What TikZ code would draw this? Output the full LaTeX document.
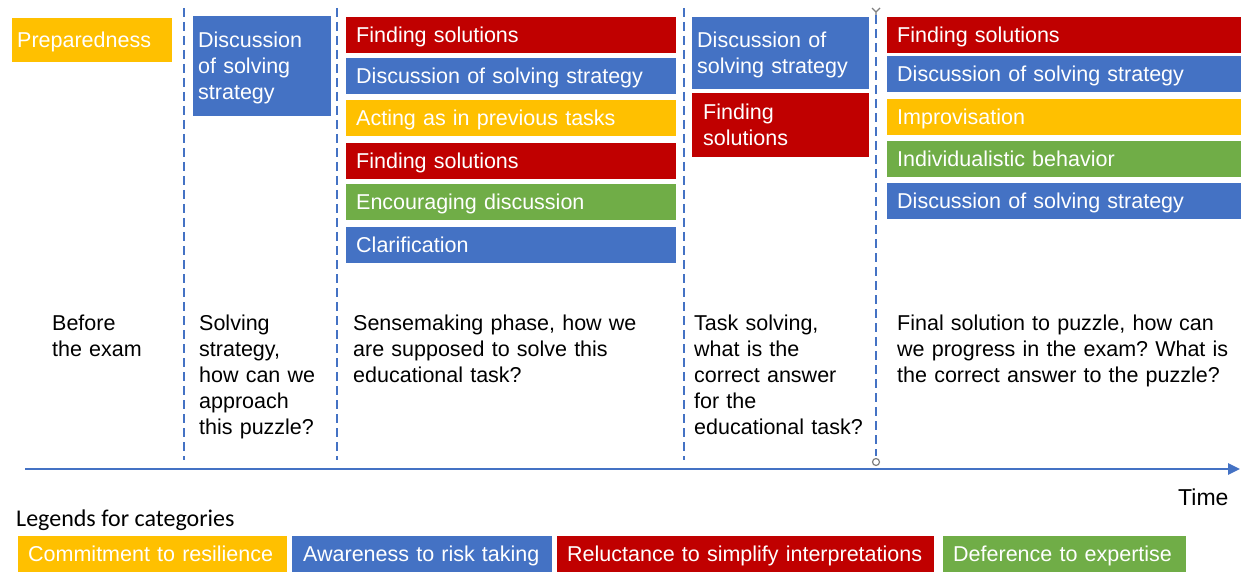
\documentclass[tikz,border=0pt]{standalone}
\usepackage{fontspec}
\setmainfont{Liberation Sans}
\newfontfamily\legendfont{Carlito}
\usetikzlibrary{arrows.meta}
\frenchspacing

\definecolor{catyellow}{HTML}{FFC000}
\definecolor{catblue}{HTML}{4472C4}
\definecolor{catred}{HTML}{C00000}
\definecolor{catgreen}{HTML}{70AD47}

\newcommand\tagfont{\fontsize{21.5}{26}\selectfont}

\tikzset{
	tag/.style={rectangle, fill=#1, text=white, anchor=north west, inner xsep=10pt, inner ysep=0pt,
		align=left, font=\tagfont, minimum height=36pt, text height=15.4pt, text depth=0pt},
	twolines/.style={text depth=26pt},
	threelines/.style={text depth=52pt},
	midcol/.style={text width=310pt},
	lastcol/.style={text width=334pt},
	note/.style={anchor=base west, inner sep=0pt, align=left, font=\tagfont},
	phase/.style={catblue, line width=2.2pt, dash pattern=on 9pt off 5pt},
	timeline/.style={catblue, line width=2.5pt, -{Triangle[length=12pt, width=11pt]}},
	handle/.style={gray, line width=1.2pt},
}

\begin{document}
\begin{tikzpicture}[x=1pt, y=-1pt]
	\useasboundingbox (0,0) rectangle (1242,572);

	\coordinate (s1) at (184, 8);
	\coordinate (e1) at (184, 460);
	\coordinate (s2) at (337, 8);
	\coordinate (e2) at (337, 460);
	\coordinate (s3) at (684, 8);
	\coordinate (e3) at (684, 460);
	\coordinate (s4) at (876, 15);
	\coordinate (e4) at (876, 456);
	\draw[phase] (s1) -- (e1);
	\draw[phase] (s2) -- (e2);
	\draw[phase] (s3) -- (e3);
	\draw[phase] (s4) -- (e4);
	\draw[handle] (872,8) -- (876,12) -- (880,8) (876,12) -- (s4);
	\draw[handle, fill=white] (876,462) circle (3.5pt);

	\node[tag=catyellow, text width=150pt, inner xsep=5pt, minimum height=44pt] (prep) at (12,18) {Preparedness};

	\node[tag=catblue, threelines, text width=128pt, inner xsep=5pt, minimum height=100pt] (strat) at (193,16) {Discussion\\of solving\\strategy};

	\node[tag=catred, midcol] (m1) at (346,17) {Finding solutions};
	\node[tag=catblue, midcol] (m2) at (346,58) {Discussion of solving strategy};
	\node[tag=catyellow, midcol] (m3) at (346,100) {Acting as in previous tasks};
	\node[tag=catred, midcol] (m4) at (346,143) {Finding solutions};
	\node[tag=catgreen, midcol] (m5) at (346,184) {Encouraging discussion};
	\node[tag=catblue, midcol] (m6) at (346,227) {Clarification};

	\node[tag=catblue, twolines, text width=167pt, inner xsep=5pt, minimum height=72pt] (t1) at (692,17) {Discussion of\\solving strategy};
	\node[tag=catred, twolines, text width=155pt, inner xsep=11pt, minimum height=64pt] (t2) at (692,93) {Finding\\solutions};

	\node[tag=catred, lastcol] (f1) at (887,17) {Finding solutions};
	\node[tag=catblue, lastcol] (f2) at (887,56) {Discussion of solving strategy};
	\node[tag=catyellow, lastcol] (f3) at (887,99) {Improvisation};
	\node[tag=catgreen, lastcol] (f4) at (887,141) {Individualistic behavior};
	\node[tag=catblue, lastcol] (f5) at (887,183) {Discussion of solving strategy};

	\node[note, text width=120pt] (n1) at (52,330.5) {Before\\the exam};
	\node[note, text width=130pt] (n2) at (199,330.5) {Solving\\strategy,\\how can we\\approach\\this puzzle?};
	\node[note, text width=320pt] (n3) at (353,330.5) {Sensemaking phase, how we\\are supposed to solve this\\educational task?};
	\node[note, text width=180pt] (n4) at (694,330.5) {Task solving,\\what is the\\correct answer\\for the\\educational task?};
	\node[note, text width=340pt] (n5) at (897,330.5) {Final solution to puzzle, how can\\we progress in the exam? What is\\the correct answer to the puzzle?};

	\coordinate (a0) at (25,469);
	\coordinate (a1) at (1240,469);
	\draw[timeline] (a0) -- (a1);
	\node[note, font=\fontsize{23}{28}\selectfont] (time) at (1178,505.5) {Time};

	\node[anchor=base west, inner sep=0pt, font=\legendfont\fontsize{24}{28}\selectfont] (legend) at (16,526) {Legends for categories};
	\node[tag=catyellow, text width=249pt] (c1) at (18,536) {Commitment to resilience};
	\node[tag=catblue, text width=238pt, inner xsep=11pt] (c2) at (292,536) {Awareness to risk taking};
	\node[tag=catred, text width=357pt] (c3) at (557,536) {Reluctance to simplify interpretations};
	\node[tag=catgreen, text width=223pt] (c4) at (943,536) {Deference to expertise};
\end{tikzpicture}
\end{document}
